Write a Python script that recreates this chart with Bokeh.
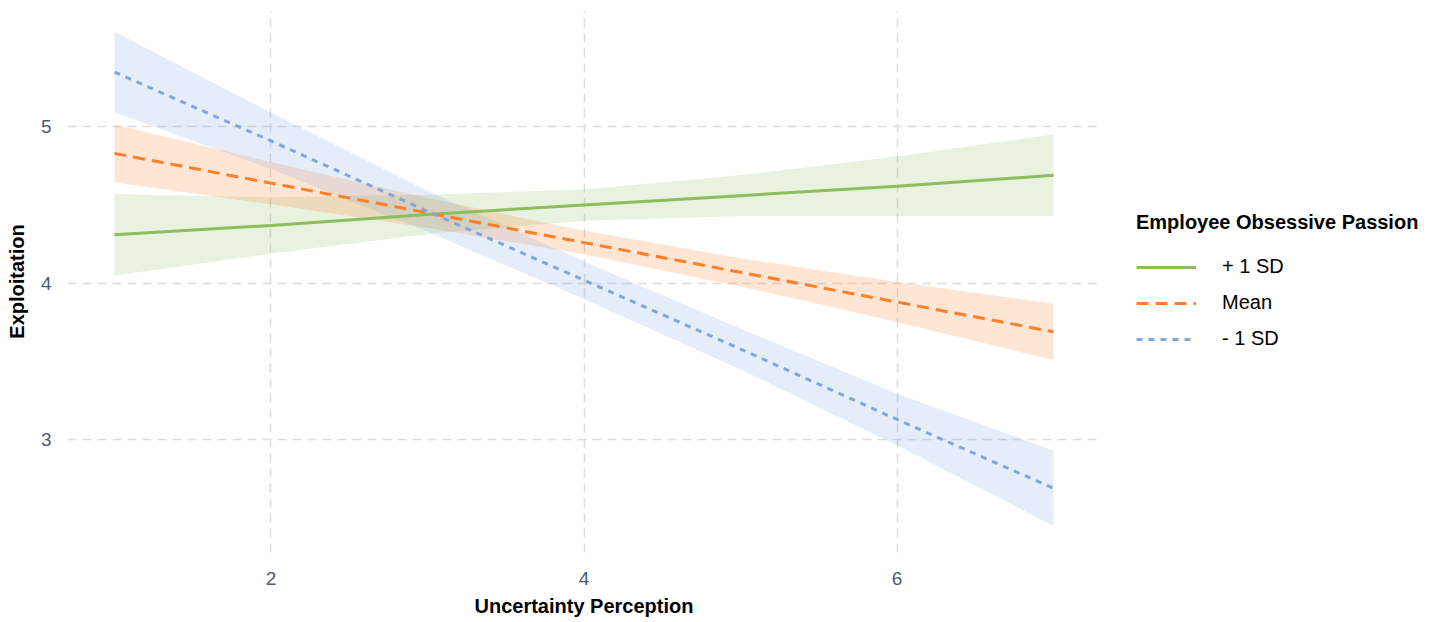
from bokeh.plotting import figure
from bokeh.models import Range1d, Legend, LegendItem, FixedTicker
from bokeh.embed import file_html
from bokeh.resources import INLINE

# ---- data ----
x_vals = [1, 2, 3, 4, 5, 6, 7]

plus_fit = [4.31, 4.37, 4.44, 4.50, 4.56, 4.62, 4.69]
plus_lo = [4.05, 4.19, 4.315, 4.40, 4.43, 4.43, 4.43]
plus_hi = [4.57, 4.55, 4.565, 4.60, 4.69, 4.81, 4.95]

mean_fit = [4.83, 4.64, 4.45, 4.26, 4.07, 3.88, 3.69]
mean_lo = [4.645, 4.505, 4.355, 4.185, 3.98, 3.752, 3.51]
mean_hi = [5.015, 4.775, 4.545, 4.335, 4.16, 4.008, 3.87]

minus_fit = [5.35, 4.91, 4.46, 4.02, 3.58, 3.13, 2.69]
minus_lo = [5.093, 4.73, 4.33, 3.90, 3.45, 2.965, 2.45]
minus_hi = [5.607, 5.09, 4.59, 4.14, 3.71, 3.295, 2.93]

series_labels = ["+ 1 SD", "Mean", "- 1 SD"]
x_ticks = [2, 4, 6]
y_ticks = [3, 4, 5]

colors = ["#8cbd5e", "#ff7f27", "#7fa7dd"]
dashes = ["solid", "12 7", "6 6"]

FONT = "Liberation Sans"

p = figure(frame_width=1033, frame_height=542, output_backend="svg", toolbar_location=None,
           x_range=Range1d(0.7, 7.3), y_range=Range1d(2.28, 5.743),
           min_border_left=67, min_border_right=0, min_border_top=10,
           min_border_bottom=68)
p.outline_line_color = None
p.background_fill_color = "white"

fits = [plus_fit, mean_fit, minus_fit]
los = [plus_lo, mean_lo, minus_lo]
his = [plus_hi, mean_hi, minus_hi]

for lo, hi, c in zip(los, his, colors):
    p.varea(x=x_vals, y1=lo, y2=hi, fill_color=c, fill_alpha=0.2)

renderers = []
for fit, c, d in zip(fits, colors, dashes):
    r = p.line(x=x_vals, y=fit, line_color=c, line_width=3, line_dash=d)
    renderers.append(r)

# axes
for ax in (p.xaxis[0], p.yaxis[0]):
    ax.axis_line_color = None
    ax.major_tick_line_color = None
    ax.minor_tick_line_color = None
    ax.major_tick_out = 0
    ax.major_tick_in = 0
    ax.major_label_text_font = FONT
    ax.major_label_text_font_size = "19px"
    ax.major_label_text_color = "#4a5a78"
    ax.axis_label_text_font = FONT
    ax.axis_label_text_font_style = "bold"
    ax.axis_label_text_font_size = "20px"
    ax.axis_label_text_color = "black"

p.xaxis.ticker = FixedTicker(ticks=x_ticks)
p.yaxis.ticker = FixedTicker(ticks=y_ticks)
p.xaxis.axis_label = "Uncertainty Perception"
p.yaxis.axis_label = "Exploitation"
p.xaxis.major_label_standoff = 19
p.xaxis.axis_label_standoff = 7
p.yaxis.major_label_standoff = 16
p.yaxis.axis_label_standoff = 10

p.xgrid.ticker = FixedTicker(ticks=x_ticks)
p.ygrid.ticker = FixedTicker(ticks=y_ticks)
for g in (p.xgrid[0], p.ygrid[0]):
    g.grid_line_color = "#dcdcdc"
    g.grid_line_width = 1.5
    g.grid_line_dash = "9 6"

items = [LegendItem(label=lab, renderers=[r]) for lab, r in zip(series_labels, renderers)]
legend = Legend(items=items, location=(36, 202), title="Employee Obsessive Passion",
                title_text_font=FONT, title_text_font_style="bold",
                title_text_font_size="20px", title_text_color="black",
                title_standoff=21,
                label_text_font=FONT, label_text_font_size="20px",
                label_text_color="black",
                glyph_width=60, glyph_height=20, label_height=20,
                label_standoff=26, spacing=13, padding=0, margin=0,
                border_line_alpha=0, background_fill_alpha=0)
p.add_layout(legend, "right")

open("out.html", "w").write(file_html(p, INLINE))
